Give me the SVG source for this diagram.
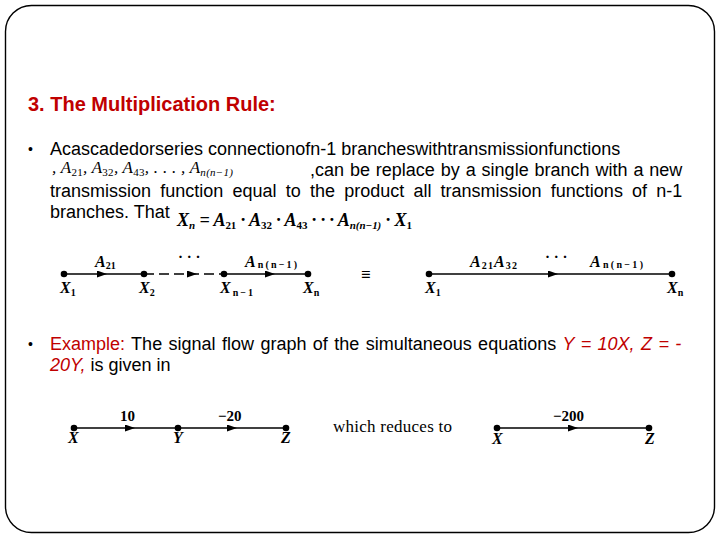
<svg xmlns="http://www.w3.org/2000/svg" width="720" height="540" viewBox="0 0 720 540">
<defs>
<style>
.frame{fill:#fff;stroke:#000;stroke-width:1.4}
.title{font-family:"Liberation Sans",Arial,sans-serif;font-weight:bold;font-size:20px;fill:#C00000}
.body{font-family:"Liberation Sans",Arial,sans-serif;font-size:18px;fill:#000}
.red{fill:#C00000}
.it{font-style:italic}
.bul{font-family:"Liberation Sans",Arial,sans-serif;font-size:14px;fill:#000}
.math{font-family:"Liberation Serif","Times New Roman",serif;font-style:italic;fill:#000}
.lbl{font-family:"Liberation Serif","Times New Roman",serif;font-weight:bold;font-style:italic;font-size:16px;fill:#000}
.num{font-family:"Liberation Serif","Times New Roman",serif;font-weight:bold;font-size:15px;fill:#000}
.sub{font-size:10px;font-style:normal}
.plain{font-family:"Liberation Serif","Times New Roman",serif;font-size:17px;fill:#000}
.edge{stroke:#000;stroke-width:1.7;fill:none;marker-mid:url(#arr)}
.dash{stroke-dasharray:10,5}
.dot{fill:#000}
</style>
<marker id="arr" markerUnits="userSpaceOnUse" markerWidth="11" markerHeight="8" refX="5" refY="3.5" orient="auto">
<path d="M0,0 L10,3.5 L0,7 z" fill="#000"/>
</marker>
</defs>
<rect width="720" height="540" fill="#fff"/>
<rect class="frame" x="5.5" y="5.5" width="709" height="527" rx="26" ry="26"/>

<text class="title" x="28" y="111">3. The Multiplication Rule:</text>

<text class="bul" x="28" y="154">•</text>
<text class="body" x="50" y="155">Acascadedorseries connectionofn-1 brancheswithtransmissionfunctions</text>
<text class="math" x="52" y="173" font-size="17" textLength="181" lengthAdjust="spacing">, A<tspan font-size="11" dy="3" font-style="normal">21</tspan><tspan dy="-3">, A</tspan><tspan font-size="11" dy="3" font-style="normal">32</tspan><tspan dy="-3">, A</tspan><tspan font-size="11" dy="3" font-style="normal">43</tspan><tspan dy="-3">, . . . , A</tspan><tspan font-size="11" dy="3">n(n−1)</tspan></text>
<text class="body" x="310" y="176" word-spacing="0.9">,can be replace by a single branch with a new</text>
<text class="body" x="50" y="197" word-spacing="4.2">transmission function equal to the product all transmission functions of n-1</text>
<text class="body" x="50" y="218">branches. That</text>
<text class="math" x="177" y="226" font-size="18" font-weight="bold" textLength="235" lengthAdjust="spacing">X<tspan font-size="11" dy="3">n</tspan><tspan dy="-3"> = A</tspan><tspan font-size="11" dy="3" font-style="normal">21</tspan><tspan dy="-3"> · A</tspan><tspan font-size="11" dy="3" font-style="normal">32</tspan><tspan dy="-3"> · A</tspan><tspan font-size="11" dy="3" font-style="normal">43</tspan><tspan dy="-3"> · · · A</tspan><tspan font-size="11" dy="3">n(n−1)</tspan><tspan dy="-3"> · X</tspan><tspan font-size="11" dy="3" font-style="normal">1</tspan></text>

<g id="connectors">
<path class="edge" d="M64,274 L102,274 L144,274"/>
<path class="edge dash" d="M144,274 L192,274 L224,274"/>
<path class="edge" d="M224,274 L270,274 L308,274"/>
<path class="edge" d="M429,274 L553,274 L672,274"/>
<path class="edge" d="M74,428 L130,428 L178,428"/>
<path class="edge" d="M178,428 L232,428 L286,428"/>
<path class="edge" d="M497,428 L573,428 L649,428"/>
</g>

<g id="edge-labels">
<text class="lbl" x="95" y="267">A<tspan class="sub" dy="2">21</tspan></text>
<text class="num" x="178" y="262">· · ·</text>
<text class="lbl" x="245" y="267" textLength="52" lengthAdjust="spacing">A<tspan class="sub" dy="1">n(n−1)</tspan></text>
<text class="plain" x="361" y="280" font-size="20" font-weight="bold">≡</text>
<text class="lbl" x="470" y="267" textLength="47" lengthAdjust="spacing">A<tspan class="sub" dy="2">21</tspan><tspan dy="-2">A</tspan><tspan class="sub" dy="2">32</tspan></text>
<text class="num" x="545" y="262">· · ·</text>
<text class="lbl" x="590" y="267" textLength="53" lengthAdjust="spacing">A<tspan class="sub" dy="1">n(n−1)</tspan></text>
<text class="num" x="120" y="421">10</text>
<text class="num" x="218" y="421">−20</text>
<text class="plain" x="333" y="432" textLength="119" lengthAdjust="spacing">which reduces to</text>
<text class="num" x="553" y="421">−200</text>
</g>

<g id="node-X1"><circle class="dot" cx="64" cy="274" r="3.3"/><text class="lbl" x="60" y="293">X<tspan class="sub" dy="3">1</tspan></text></g>
<g id="node-X2"><circle class="dot" cx="144" cy="274" r="3.3"/><text class="lbl" x="139" y="293">X<tspan class="sub" dy="3">2</tspan></text></g>
<g id="node-Xn-1"><circle class="dot" cx="224" cy="274" r="3.3"/><text class="lbl" x="220" y="293" textLength="33" lengthAdjust="spacing">X<tspan class="sub" dy="3">n−1</tspan></text></g>
<g id="node-Xn"><circle class="dot" cx="308" cy="274" r="3.3"/><text class="lbl" x="303" y="293">X<tspan class="sub" dy="3">n</tspan></text></g>
<g id="node-X1-r"><circle class="dot" cx="429" cy="274" r="3.3"/><text class="lbl" x="425" y="293">X<tspan class="sub" dy="3">1</tspan></text></g>
<g id="node-Xn-r"><circle class="dot" cx="672" cy="274" r="3.3"/><text class="lbl" x="667" y="293">X<tspan class="sub" dy="3">n</tspan></text></g>

<text class="bul" x="28" y="349">•</text>
<text class="body" x="50" y="350" word-spacing="1.4"><tspan class="red">Example:</tspan> The signal flow graph of the simultaneous equations <tspan class="red it">Y = 10X, Z = -</tspan></text>
<text class="body" x="50" y="371"><tspan class="red it">20Y,</tspan> is given in</text>

<g id="node-X"><circle class="dot" cx="74" cy="428" r="3.3"/><text class="lbl" x="68" y="443">X</text></g>
<g id="node-Y"><circle class="dot" cx="178" cy="428" r="3.3"/><text class="lbl" x="173" y="443">Y</text></g>
<g id="node-Z"><circle class="dot" cx="286" cy="428" r="3.3"/><text class="lbl" x="281" y="443">Z</text></g>
<g id="node-X-r"><circle class="dot" cx="497" cy="428" r="3.3"/><text class="lbl" x="492" y="444">X</text></g>
<g id="node-Z-r"><circle class="dot" cx="649" cy="428" r="3.3"/><text class="lbl" x="645" y="444">Z</text></g>
</svg>
